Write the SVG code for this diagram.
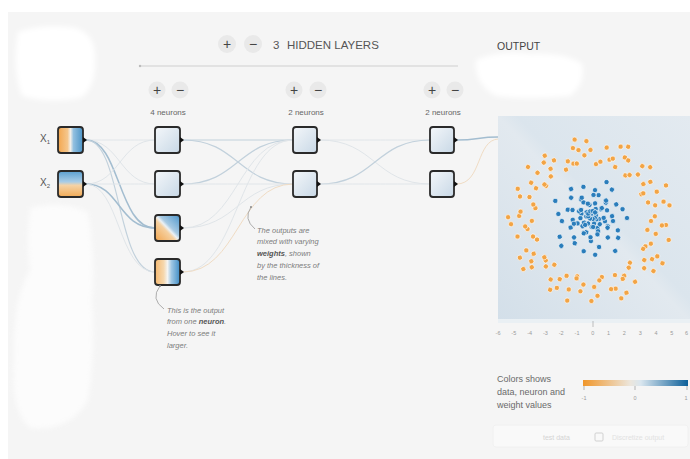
<svg xmlns="http://www.w3.org/2000/svg" width="690" height="459" viewBox="0 0 690 459">
  <style>
    .ui { font-family: "Liberation Sans", Arial, sans-serif; }
    .hdr { font-size: 11.5px; fill: #555; }
    .btn { fill: #e9e9e9; }
    .glyph { font-size: 14px; fill: #444; text-anchor: middle; }
    .cnt { font-size: 8px; fill: #666; text-anchor: middle; }
    .node { stroke: #2a2a2a; stroke-width: 1.8; }
    .handle { fill: #111; }
    .note { font-size: 7.5px; font-style: italic; fill: #7c7c7c; }
    .note .bold { font-weight: bold; fill: #555; }
    .lead { fill: none; stroke: #999; stroke-width: 0.8; }
    .lk { fill: none; stroke-linecap: round; }
    .faint { stroke: #e0e5e9; stroke-width: 1; }
    .mid { stroke: #c2d1dc; stroke-width: 1.2; }
    .strong { stroke: #a3bdd0; stroke-width: 1.5; }
    .warm { stroke: #f0dcc4; stroke-width: 1; }
    .od { fill: #f2a445; stroke: #fff; stroke-width: 0.6; }
    .bd { fill: #2a7dbb; stroke: #fff; stroke-width: 0.6; }
    .tick { font-size: 5.5px; fill: #9a9a9a; text-anchor: middle; }
    .leg { font-size: 9px; fill: #6a6a6a; }
  </style>
  <defs>
    <linearGradient id="gX1" x1="0" y1="0" x2="1" y2="0">
      <stop offset="0" stop-color="#f3a64d"/>
      <stop offset="0.38" stop-color="#f5c68c"/>
      <stop offset="0.5" stop-color="#f3efe8"/>
      <stop offset="0.62" stop-color="#92c0e0"/>
      <stop offset="1" stop-color="#4a93c6"/>
    </linearGradient>
    <linearGradient id="gX2" x1="0" y1="0" x2="0" y2="1">
      <stop offset="0" stop-color="#5a9fd0"/>
      <stop offset="0.42" stop-color="#a9cde7"/>
      <stop offset="0.55" stop-color="#f5d3a6"/>
      <stop offset="1" stop-color="#f1aa55"/>
    </linearGradient>
    <linearGradient id="gDiag" x1="0" y1="1" x2="1" y2="0">
      <stop offset="0" stop-color="#f2a44c"/>
      <stop offset="0.42" stop-color="#f5d0a0"/>
      <stop offset="0.5" stop-color="#ecf1f5"/>
      <stop offset="0.58" stop-color="#a8cae3"/>
      <stop offset="1" stop-color="#4b95cb"/>
    </linearGradient>
    <linearGradient id="gVert" x1="0" y1="0" x2="1" y2="0">
      <stop offset="0" stop-color="#f5b86f"/>
      <stop offset="0.35" stop-color="#f6d8ae"/>
      <stop offset="0.5" stop-color="#f4f4f2"/>
      <stop offset="0.66" stop-color="#9fc7e4"/>
      <stop offset="1" stop-color="#3f8dc6"/>
    </linearGradient>
    <linearGradient id="gPale" x1="0" y1="0" x2="1" y2="1">
      <stop offset="0" stop-color="#f4f7fa"/>
      <stop offset="1" stop-color="#c8d8e6"/>
    </linearGradient>
    <linearGradient id="gPlot" x1="1" y1="0" x2="0" y2="1">
      <stop offset="0" stop-color="#e3eaf0"/>
      <stop offset="0.45" stop-color="#dbe5ed"/>
      <stop offset="0.5" stop-color="#e2e9ef"/>
      <stop offset="1" stop-color="#d3dfe9"/>
    </linearGradient>
    <linearGradient id="gLegend" x1="0" y1="0" x2="1" y2="0">
      <stop offset="0" stop-color="#f0962a"/>
      <stop offset="0.45" stop-color="#ece6dc"/>
      <stop offset="0.55" stop-color="#d9e6ef"/>
      <stop offset="1" stop-color="#0c5f99"/>
    </linearGradient>
    <filter id="soft" x="-10%" y="-10%" width="120%" height="120%">
      <feGaussianBlur stdDeviation="2.5"/>
    </filter>
    <!-- ring arms (orange class) -->
    <g id="oA"><circle cx="60" cy="0" r="2.6"/><circle cx="75" cy="4" r="2.6"/></g>
    <g id="oB"><circle cx="66" cy="-2" r="2.6"/><circle cx="80" cy="1" r="2.6"/></g>
    <g id="oC"><circle cx="57" cy="3" r="2.6"/><circle cx="71" cy="-3" r="2.6"/></g>
    <g id="oD"><circle cx="64" cy="2" r="2.6"/></g>
    <g id="oE"><circle cx="72" cy="0" r="2.6"/><circle cx="59" cy="-4" r="2.6"/><circle cx="83" cy="-2" r="2.6"/></g>
    <!-- core arms (blue class) -->
    <g id="bP"><circle cx="8" cy="0" r="2.6"/><circle cx="22" cy="2" r="2.6"/><circle cx="36" cy="-1" r="2.6"/></g>
    <g id="bQ"><circle cx="14" cy="-2" r="2.6"/><circle cx="29" cy="3" r="2.6"/></g>
    <g id="bR"><circle cx="5" cy="2" r="2.6"/><circle cx="18" cy="-3" r="2.6"/><circle cx="33" cy="1" r="2.6"/></g>
    <g id="bS"><circle cx="11" cy="1" r="2.6"/><circle cx="25" cy="-1" r="2.6"/><circle cx="40" cy="2" r="2.6"/></g>
    <g id="bT"><circle cx="4" cy="0" r="2.6"/><circle cx="12" cy="1" r="2.6"/><circle cx="20" cy="-2" r="2.6"/></g>
  </defs>

  <!-- page -->
  <rect x="0" y="0" width="690" height="459" fill="#ffffff"/>
  <rect x="8" y="12" width="682" height="447" fill="#f5f5f5"/>
  <g fill="#ffffff" filter="url(#soft)">
    <path d="M18,32 Q40,24 70,27 Q94,30 95,55 Q97,88 80,98 Q50,104 22,96 Q12,70 18,32 Z"/>
    <path d="M476,60 Q500,50 530,54 Q565,52 582,64 Q586,84 570,96 Q530,100 496,96 Q474,84 476,60 Z"/>
  </g>
  <path d="M30,208 Q60,200 88,212 Q96,260 92,300 Q96,350 88,400 Q70,432 30,428 Q10,410 14,360 Q12,300 30,270 Q26,240 30,208 Z" fill="#ffffff" opacity="0.7" filter="url(#soft)"/>

  <!-- header -->
  <g id="hidden-layers-header" class="ui">
    <circle class="btn" cx="227" cy="44" r="9"/>
    <text class="glyph" x="227" y="49">+</text>
    <circle class="btn" cx="253" cy="44" r="9"/>
    <text class="glyph" x="253" y="49">−</text>
    <text class="hdr" x="273" y="49">3</text>
    <text class="hdr" x="287" y="49">HIDDEN LAYERS</text>
    <line x1="140" y1="66" x2="458" y2="66" stroke="#cfcfcf" stroke-width="1"/>
    <circle cx="140" cy="66" r="1.2" fill="#bbb"/>
  </g>
  <text class="ui" x="497" y="50" font-size="10.5" fill="#444">OUTPUT</text>

  <!-- layer controls -->
  <g id="layer1-controls" class="ui">
    <circle class="btn" cx="157" cy="90" r="8.5"/>
    <text class="glyph" x="157" y="95">+</text>
    <circle class="btn" cx="180" cy="90" r="8.5"/>
    <text class="glyph" x="180" y="95">−</text>
    <text class="cnt" x="168" y="115">4 neurons</text>
  </g>
  <g id="layer2-controls" class="ui">
    <circle class="btn" cx="294" cy="90" r="8.5"/>
    <text class="glyph" x="294" y="95">+</text>
    <circle class="btn" cx="318" cy="90" r="8.5"/>
    <text class="glyph" x="318" y="95">−</text>
    <text class="cnt" x="306" y="115">2 neurons</text>
  </g>
  <g id="layer3-controls" class="ui">
    <circle class="btn" cx="432" cy="90" r="8.5"/>
    <text class="glyph" x="432" y="95">+</text>
    <circle class="btn" cx="455" cy="90" r="8.5"/>
    <text class="glyph" x="455" y="95">−</text>
    <text class="cnt" x="443" y="115">2 neurons</text>
  </g>

  <!-- connectors -->
  <g id="connectors">
    <!-- inputs to layer 1 -->
    <path class="lk faint" d="M86,140 C120,140 120,140 155,140"/>
    <path class="lk faint" d="M86,140 C120,140 120,184 155,184"/>
    <path class="lk strong" d="M86,140 C120,140 118,228 155,228"/>
    <path class="lk mid" d="M86,140 C122,140 116,272 155,272"/>
    <path class="lk faint" d="M86,184 C120,184 120,140 155,140"/>
    <path class="lk faint" d="M86,184 C120,184 120,184 155,184"/>
    <path class="lk strong" d="M86,184 C120,184 118,228 155,228"/>
    <path class="lk faint" d="M86,184 C120,184 118,272 155,272"/>
    <!-- layer 1 to layer 2 -->
    <path class="lk mid" d="M183,140 C238,140 238,140 293,140"/>
    <path class="lk mid" d="M183,140 C238,140 238,184 293,184"/>
    <path class="lk mid" d="M183,184 C238,184 238,140 293,140"/>
    <path class="lk faint" d="M183,184 C238,184 238,184 293,184"/>
    <path class="lk faint" d="M183,228 C238,228 238,140 293,140"/>
    <path class="lk faint" d="M183,228 C238,228 238,184 293,184"/>
    <path class="lk faint" d="M183,272 C238,272 238,140 293,140"/>
    <path class="lk warm" d="M183,272 C238,272 238,184 293,184"/>
    <!-- layer 2 to layer 3 -->
    <path class="lk faint" d="M320,140 C375,140 375,140 430,140"/>
    <path class="lk faint" d="M320,140 C375,140 375,184 430,184"/>
    <path class="lk mid" d="M320,184 C375,184 375,140 430,140"/>
    <path class="lk faint" d="M320,184 C375,184 375,184 430,184"/>
    <!-- layer 3 to output -->
    <path class="lk strong" d="M457,140 C478,140 478,137 498,137"/>
    <path class="lk warm" d="M457,184 C482,184 476,140 498,139"/>
  </g>

  <!-- input nodes -->
  <g id="input-x1" class="ui">
    <text x="40" y="142" font-size="10" fill="#555">X<tspan font-size="6" dy="2">1</tspan></text>
    <rect class="node" x="58" y="127" width="25" height="26" rx="3" fill="url(#gX1)"/>
    <path class="handle" d="M83,137 L87,140 L83,143 Z"/>
  </g>
  <g id="input-x2" class="ui">
    <text x="40" y="186" font-size="10" fill="#555">X<tspan font-size="6" dy="2">2</tspan></text>
    <rect class="node" x="58" y="171" width="25" height="26" rx="3" fill="url(#gX2)"/>
    <path class="handle" d="M83,181 L87,184 L83,187 Z"/>
  </g>

  <!-- hidden layer 1 -->
  <g id="h1-n1">
    <rect class="node" x="155" y="127" width="25" height="26" rx="3" fill="url(#gPale)"/>
    <path class="handle" d="M180,137 L184,140 L180,143 Z"/>
  </g>
  <g id="h1-n2">
    <rect class="node" x="155" y="171" width="25" height="26" rx="3" fill="url(#gPale)"/>
    <path class="handle" d="M180,181 L184,184 L180,187 Z"/>
  </g>
  <g id="h1-n3">
    <rect class="node" x="155" y="215" width="25" height="26" rx="3" fill="url(#gDiag)"/>
    <path class="handle" d="M180,225 L184,228 L180,231 Z"/>
  </g>
  <g id="h1-n4">
    <rect class="node" x="155" y="259" width="25" height="26" rx="3" fill="url(#gVert)"/>
    <path class="handle" d="M180,269 L184,272 L180,275 Z"/>
  </g>

  <!-- hidden layer 2 -->
  <g id="h2-n1">
    <rect class="node" x="293" y="127" width="24" height="26" rx="3" fill="url(#gPale)"/>
    <path class="handle" d="M317,137 L321,140 L317,143 Z"/>
  </g>
  <g id="h2-n2">
    <rect class="node" x="293" y="171" width="24" height="26" rx="3" fill="url(#gPale)"/>
    <path class="handle" d="M317,181 L321,184 L317,187 Z"/>
  </g>

  <!-- hidden layer 3 -->
  <g id="h3-n1">
    <rect class="node" x="430" y="127" width="24" height="26" rx="3" fill="url(#gPale)"/>
    <path class="handle" d="M454,137 L458,140 L454,143 Z"/>
  </g>
  <g id="h3-n2">
    <rect class="node" x="430" y="171" width="24" height="26" rx="3" fill="url(#gPale)"/>
    <path class="handle" d="M454,181 L458,184 L454,187 Z"/>
  </g>

  <!-- annotations -->
  <g id="note-weights" class="ui">
    <path class="lead" d="M251,207 Q243,219 255,229"/>
    <circle cx="251" cy="207" r="1" fill="#888"/>
    <text class="note" x="257" y="233">The outputs are</text>
    <text class="note" x="257" y="244">mixed with varying</text>
    <text class="note" x="257" y="256"><tspan class="bold">weights</tspan>, shown</text>
    <text class="note" x="257" y="268">by the thickness of</text>
    <text class="note" x="257" y="280">the lines.</text>
  </g>
  <g id="note-neuron" class="ui">
    <path class="lead" d="M160,286 Q150,299 164,309"/>
    <circle cx="160" cy="286" r="1" fill="#888"/>
    <text class="note" x="167" y="313">This is the output</text>
    <text class="note" x="167" y="324">from one <tspan class="bold">neuron</tspan>.</text>
    <text class="note" x="167" y="336">Hover to see it</text>
    <text class="note" x="167" y="348">larger.</text>
  </g>

  <!-- output heatmap -->
  <g id="output-plot">
    <rect x="498" y="116" width="192" height="205" fill="url(#gPlot)"/>
    <rect x="498" y="319" width="192" height="4" fill="#eaf0f4"/>
    <g class="od">
      <use href="#oA" transform="translate(591,221) rotate(0)"/>
      <use href="#oC" transform="translate(591,221) rotate(6)"/>
      <use href="#oB" transform="translate(591,221) rotate(13)"/>
      <use href="#oD" transform="translate(591,221) rotate(19)"/>
      <use href="#oA" transform="translate(591,221) rotate(25)"/>
      <use href="#oE" transform="translate(591,221) rotate(32)"/>
      <use href="#oB" transform="translate(591,221) rotate(38)"/>
      <use href="#oC" transform="translate(591,221) rotate(44)"/>
      <use href="#oA" transform="translate(591,221) rotate(51)"/>
      <use href="#oD" transform="translate(591,221) rotate(57)"/>
      <use href="#oB" transform="translate(591,221) rotate(63)"/>
      <use href="#oE" transform="translate(591,221) rotate(70)"/>
      <use href="#oC" transform="translate(591,221) rotate(76)"/>
      <use href="#oA" transform="translate(591,221) rotate(82)"/>
      <use href="#oB" transform="translate(591,221) rotate(89)"/>
      <use href="#oD" transform="translate(591,221) rotate(95)"/>
      <use href="#oC" transform="translate(591,221) rotate(101)"/>
      <use href="#oE" transform="translate(591,221) rotate(108)"/>
      <use href="#oA" transform="translate(591,221) rotate(114)"/>
      <use href="#oB" transform="translate(591,221) rotate(120)"/>
      <use href="#oC" transform="translate(591,221) rotate(127)"/>
      <use href="#oD" transform="translate(591,221) rotate(133)"/>
      <use href="#oA" transform="translate(591,221) rotate(139)"/>
      <use href="#oE" transform="translate(591,221) rotate(146)"/>
      <use href="#oB" transform="translate(591,221) rotate(152)"/>
      <use href="#oC" transform="translate(591,221) rotate(158)"/>
      <use href="#oA" transform="translate(591,221) rotate(165)"/>
      <use href="#oD" transform="translate(591,221) rotate(171)"/>
      <use href="#oB" transform="translate(591,221) rotate(177)"/>
      <use href="#oE" transform="translate(591,221) rotate(184)"/>
      <use href="#oC" transform="translate(591,221) rotate(190)"/>
      <use href="#oA" transform="translate(591,221) rotate(196)"/>
      <use href="#oB" transform="translate(591,221) rotate(203)"/>
      <use href="#oD" transform="translate(591,221) rotate(209)"/>
      <use href="#oC" transform="translate(591,221) rotate(215)"/>
      <use href="#oE" transform="translate(591,221) rotate(222)"/>
      <use href="#oA" transform="translate(591,221) rotate(228)"/>
      <use href="#oB" transform="translate(591,221) rotate(234)"/>
      <use href="#oC" transform="translate(591,221) rotate(241)"/>
      <use href="#oD" transform="translate(591,221) rotate(247)"/>
      <use href="#oA" transform="translate(591,221) rotate(253)"/>
      <use href="#oE" transform="translate(591,221) rotate(260)"/>
      <use href="#oB" transform="translate(591,221) rotate(266)"/>
      <use href="#oC" transform="translate(591,221) rotate(272)"/>
      <use href="#oA" transform="translate(591,221) rotate(279)"/>
      <use href="#oD" transform="translate(591,221) rotate(285)"/>
      <use href="#oB" transform="translate(591,221) rotate(291)"/>
      <use href="#oE" transform="translate(591,221) rotate(298)"/>
      <use href="#oC" transform="translate(591,221) rotate(304)"/>
      <use href="#oA" transform="translate(591,221) rotate(310)"/>
      <use href="#oB" transform="translate(591,221) rotate(317)"/>
      <use href="#oD" transform="translate(591,221) rotate(323)"/>
      <use href="#oC" transform="translate(591,221) rotate(329)"/>
      <use href="#oE" transform="translate(591,221) rotate(336)"/>
      <use href="#oA" transform="translate(591,221) rotate(342)"/>
      <use href="#oB" transform="translate(591,221) rotate(348)"/>
      <use href="#oD" transform="translate(591,221) rotate(354)"/>
    </g>
    <g class="bd">
      <use href="#bP" transform="translate(591,219) rotate(0)"/>
      <use href="#bQ" transform="translate(591,219) rotate(17)"/>
      <use href="#bR" transform="translate(591,219) rotate(33)"/>
      <use href="#bS" transform="translate(591,219) rotate(50)"/>
      <use href="#bQ" transform="translate(591,219) rotate(68)"/>
      <use href="#bP" transform="translate(591,219) rotate(85)"/>
      <use href="#bR" transform="translate(591,219) rotate(101)"/>
      <use href="#bQ" transform="translate(591,219) rotate(118)"/>
      <use href="#bS" transform="translate(591,219) rotate(135)"/>
      <use href="#bP" transform="translate(591,219) rotate(152)"/>
      <use href="#bQ" transform="translate(591,219) rotate(170)"/>
      <use href="#bR" transform="translate(591,219) rotate(187)"/>
      <use href="#bS" transform="translate(591,219) rotate(204)"/>
      <use href="#bQ" transform="translate(591,219) rotate(221)"/>
      <use href="#bP" transform="translate(591,219) rotate(238)"/>
      <use href="#bR" transform="translate(591,219) rotate(255)"/>
      <use href="#bQ" transform="translate(591,219) rotate(272)"/>
      <use href="#bS" transform="translate(591,219) rotate(290)"/>
      <use href="#bP" transform="translate(591,219) rotate(307)"/>
      <use href="#bQ" transform="translate(591,219) rotate(324)"/>
      <use href="#bR" transform="translate(591,219) rotate(341)"/>
      <use href="#bT" transform="translate(592,215) rotate(9)"/>
      <use href="#bT" transform="translate(592,215) rotate(45)"/>
      <use href="#bT" transform="translate(592,215) rotate(80)"/>
      <use href="#bT" transform="translate(592,215) rotate(120)"/>
      <use href="#bT" transform="translate(592,215) rotate(160)"/>
      <use href="#bT" transform="translate(592,215) rotate(200)"/>
      <use href="#bT" transform="translate(592,215) rotate(245)"/>
      <use href="#bT" transform="translate(592,215) rotate(280)"/>
      <use href="#bT" transform="translate(592,215) rotate(320)"/>
    </g>
    <line x1="593" y1="321" x2="593" y2="327" stroke="#999" stroke-width="0.6"/>
    <g class="ui">
      <text class="tick" x="498" y="335">-6</text>
      <text class="tick" x="513.8" y="335">-5</text>
      <text class="tick" x="529.6" y="335">-4</text>
      <text class="tick" x="545.4" y="335">-3</text>
      <text class="tick" x="561.2" y="335">-2</text>
      <text class="tick" x="577" y="335">-1</text>
      <text class="tick" x="592.8" y="335">0</text>
      <text class="tick" x="608.6" y="335">1</text>
      <text class="tick" x="624.4" y="335">2</text>
      <text class="tick" x="640.2" y="335">3</text>
      <text class="tick" x="656" y="335">4</text>
      <text class="tick" x="671.8" y="335">5</text>
      <text class="tick" x="686.5" y="335">6</text>
    </g>
  </g>

  <!-- colour legend -->
  <g id="legend" class="ui">
    <text class="leg" x="497" y="382">Colors shows</text>
    <text class="leg" x="497" y="395">data, neuron and</text>
    <text class="leg" x="497" y="408">weight values</text>
    <rect x="583" y="380" width="105" height="6" fill="url(#gLegend)"/>
    <g stroke="#888" stroke-width="0.6">
      <line x1="584" y1="386" x2="584" y2="390"/>
      <line x1="635" y1="386" x2="635" y2="390"/>
      <line x1="687" y1="386" x2="687" y2="390"/>
    </g>
    <text class="tick" x="584" y="400">-1</text>
    <text class="tick" x="635" y="400">0</text>
    <text class="tick" x="686" y="400">1</text>
  </g>

  <!-- display options -->
  <g id="options" class="ui">
    <rect x="493" y="425" width="195" height="22" rx="3" fill="#f9f9f9" stroke="#efefef" stroke-width="0.8"/>
    <text x="543" y="440" font-size="7" fill="#d4d4d4">test data</text>
    <rect x="595" y="433" width="8" height="8" rx="1" fill="none" stroke="#c8c8c8" stroke-width="0.8"/>
    <text x="612" y="440" font-size="7" fill="#e2e2e2">Discretize output</text>
  </g>
</svg>
